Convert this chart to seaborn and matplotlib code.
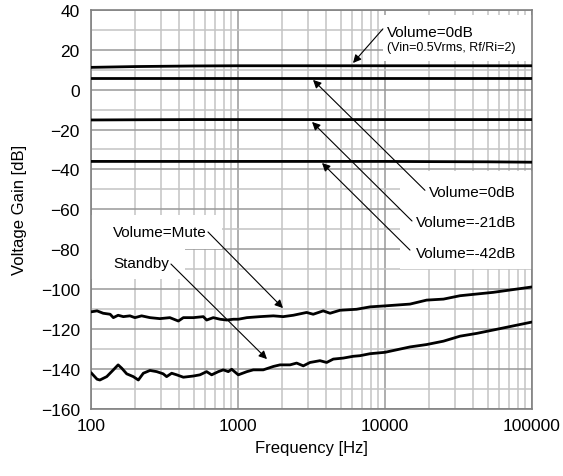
import numpy as np
import pandas as pd
import seaborn as sns
import matplotlib
matplotlib.use("Agg")
import matplotlib.pyplot as plt
from matplotlib.patches import Rectangle
from matplotlib.ticker import LogLocator, MultipleLocator, NullFormatter

# flat gain curves (Volume = 0 / -21 / -42 dB and the 0dB reference)
freq_flat = [100, 200, 500, 1000, 2000, 5000, 10000, 20000, 50000, 100000]
gain_ref = [11.2, 11.6, 11.9, 12.0, 12.0, 12.0, 12.0, 12.0, 12.0, 12.0]
gain_0db = [5.8, 5.8, 5.8, 5.8, 5.8, 5.8, 5.8, 5.8, 5.8, 5.8]
gain_21db = [-15.2, -15.1, -15.0, -15.0, -15.0, -15.0, -15.0, -15.0, -15.0, -15.0]
gain_42db = [-36.0, -36.0, -36.0, -36.0, -36.0, -36.0, -36.0, -36.1, -36.2, -36.4]

# Volume=Mute
freq_mute = [100, 110, 121, 135, 142, 153, 166, 184, 199, 221, 252, 294, 344, 393,
             425, 497, 581, 612, 679, 755, 838, 930, 1005, 1150, 1410, 1740, 2030,
             2380, 2930, 3250, 3800, 4230, 4940, 6410, 7910, 10000, 14800, 19200,
             25000, 32400, 54600, 100000]
gain_mute = [-111.5, -111.0, -112.2, -112.7, -114.4, -113.2, -113.9, -113.5, -114.4,
             -113.5, -114.4, -114.9, -114.4, -116.1, -114.4, -114.4, -113.9, -115.6,
             -114.4, -115.2, -115.6, -115.2, -115.2, -114.4, -113.9, -113.5, -113.9,
             -113.2, -111.8, -112.7, -111.0, -112.2, -110.7, -110.2, -109.0, -108.5,
             -107.6, -105.6, -105.1, -103.4, -101.7, -99.0]

# Standby
freq_stby = [100, 110, 115, 128, 142, 153, 162, 175, 194, 210, 227, 252, 280, 310,
             327, 354, 383, 425, 497, 551, 612, 662, 735, 795, 859, 906, 1005, 1150,
             1271, 1486, 1740, 1931, 2259, 2506, 2782, 3090, 3612, 4010, 4450, 5200,
             6080, 6760, 7910, 10000, 14800, 19200, 25000, 32400, 42100, 54600, 100000]
gain_stby = [-142.0, -145.3, -145.7, -144.0, -140.6, -138.1, -139.8, -142.6, -144.0,
             -145.7, -142.3, -140.9, -141.5, -142.6, -144.0, -142.3, -143.1, -144.3,
             -143.7, -143.1, -141.5, -143.1, -141.5, -140.6, -141.5, -140.3, -143.1,
             -141.5, -140.6, -140.6, -138.9, -138.1, -138.1, -137.2, -138.6, -136.9,
             -136.0, -136.9, -135.2, -134.7, -133.8, -133.5, -132.5, -131.8, -129.1,
             -127.9, -126.2, -123.7, -122.3, -120.6, -116.6]

sns.set_style("white")
plt.rcParams["font.family"] = ["Liberation Sans", "DejaVu Sans"]
plt.rcParams["text.color"] = "black"
plt.rcParams["axes.labelcolor"] = "black"
plt.rcParams["xtick.color"] = "black"
plt.rcParams["ytick.color"] = "black"

fig = plt.figure(figsize=(5.63, 4.77), dpi=100)
ax = fig.add_axes([0.1616, 0.1415, 0.7833, 0.8355])

for f, g in [(freq_flat, gain_ref), (freq_flat, gain_0db), (freq_flat, gain_21db),
             (freq_flat, gain_42db), (freq_mute, gain_mute), (freq_stby, gain_stby)]:
    df = pd.DataFrame({"f": f, "g": g})
    sns.lineplot(data=df, x="f", y="g", ax=ax, color="black", lw=2, zorder=3)

ax.set_xscale("log")
ax.set_xlim(100, 100000)
ax.set_ylim(-160, 40)
ax.set_xticks([100, 1000, 10000, 100000])
ax.set_xticklabels(["100", "1000", "10000", "100000"])
ax.xaxis.set_minor_locator(LogLocator(base=10, subs=np.arange(2, 10)))
ax.xaxis.set_minor_formatter(NullFormatter())
ax.yaxis.set_major_locator(MultipleLocator(20))
ax.yaxis.set_minor_locator(MultipleLocator(10))
ax.grid(which="major", color="#999999", lw=1.1)
ax.grid(which="minor", color="#c4c4c4", lw=1.1)
ax.set_axisbelow(True)
for s in ax.spines.values():
    s.set_color("#808080")
    s.set_linewidth(1.2)
ax.tick_params(which="both", length=0, labelsize=12.5, labelcolor="black")
ax.tick_params(axis="y", pad=8)
ax.tick_params(axis="x", pad=7)
ax.set_xlabel("Frequency [Hz]", fontsize=12, labelpad=5)
ax.set_ylabel("Voltage Gain [dB]", fontsize=12, labelpad=10)

# white label areas that hide the grid
for x0, y0, w, h in [(0.662, 0.872, 0.338, 0.115),
                     (0.70, 0.35, 0.30, 0.245),
                     (0.0, 0.40, 0.297, 0.085),
                     (0.0, 0.325, 0.213, 0.08)]:
    ax.add_patch(Rectangle((x0, y0), w, h, transform=ax.transAxes,
                           fc="white", ec="none", zorder=1))

arrow = dict(arrowstyle="-|>", color="black", lw=0.8, mutation_scale=12,
             shrinkA=0, shrinkB=0)

# top reference label
ax.text(10330, 29, "Volume=0dB", fontsize=11, ha="left", va="center", zorder=4)
ax.text(10330, 21.4, "(Vin=0.5Vrms, Rf/Ri=2)", fontsize=9, ha="left", va="center", zorder=4)
ax.annotate("", xy=(6060, 13.4), xytext=(9680, 30.5), arrowprops=arrow, zorder=5)

# volume labels
ax.text(19900, -51.3, "Volume=0dB", fontsize=11, ha="left", va="center", zorder=4)
ax.text(16250, -66.4, "Volume=-21dB", fontsize=11, ha="left", va="center", zorder=4)
ax.text(16250, -82.0, "Volume=-42dB", fontsize=11, ha="left", va="center", zorder=4)
ax.annotate("", xy=(3240, 4.9), xytext=(18700, -50.5), arrowprops=arrow, zorder=5)
ax.annotate("", xy=(3190, -16.2), xytext=(15270, -65.9), arrowprops=arrow, zorder=5)
ax.annotate("", xy=(3730, -36.8), xytext=(14790, -80.5), arrowprops=arrow, zorder=5)

# mute / standby labels
ax.text(141, -71.4, "Volume=Mute", fontsize=11, ha="left", va="center", zorder=4)
ax.text(141, -87.0, "Standby", fontsize=11, ha="left", va="center", zorder=4)
ax.annotate("", xy=(2023, -109.6), xytext=(625, -71.4), arrowprops=arrow, zorder=5)
ax.annotate("", xy=(1575, -135.2), xytext=(350, -87.5), arrowprops=arrow, zorder=5)

fig.savefig("out.png", dpi=100)
